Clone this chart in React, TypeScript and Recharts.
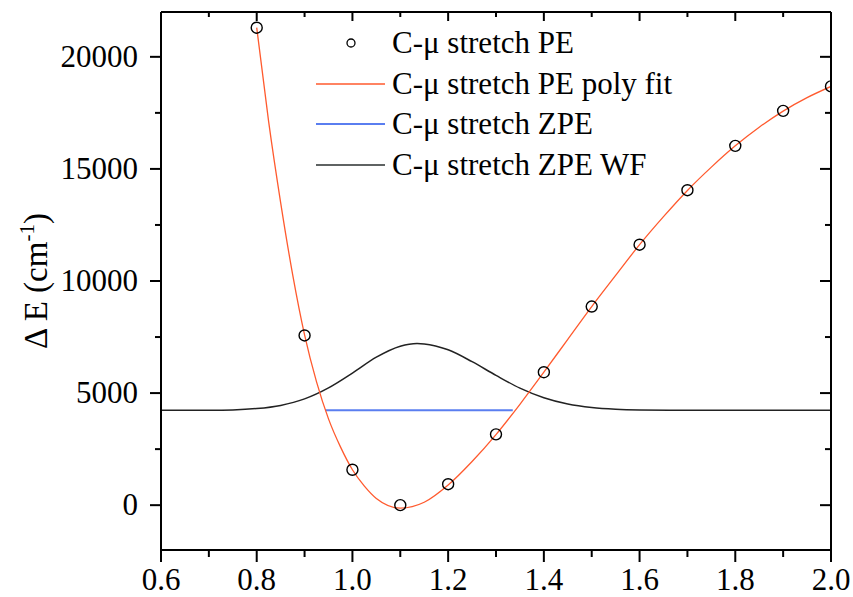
import { ComposedChart, Line, Scatter, XAxis, YAxis, Legend } from 'recharts'

const FONT = '"Liberation Serif", "Times New Roman", serif'

// C-mu stretch PE (points)
const peX = [0.8, 0.9, 1.0, 1.1, 1.2, 1.3, 1.4, 1.5, 1.6, 1.7, 1.8, 1.9, 2.0]
const peE = [21300, 7570, 1580, 0, 935, 3160, 5930, 8860, 11620, 14050, 16030, 17590, 18680]

// poly fit curve
const fitX = [0.8, 0.825, 0.85, 0.875, 0.9, 0.925, 0.95, 0.975, 1.0, 1.025, 1.05, 1.1, 1.15, 1.2, 1.25, 1.3, 1.35, 1.4, 1.45, 1.5, 1.55, 1.6, 1.65, 1.7, 1.75, 1.8, 1.85, 1.9, 1.95, 2.0]
const fitE = [21300, 17100, 13500, 10300, 7600, 5500, 3850, 2600, 1580, 850, 300, -130, 130, 900, 1950, 3150, 4500, 5930, 7400, 8860, 10250, 11620, 12870, 14040, 15080, 16030, 16860, 17580, 18180, 18680]

// zero point energy level
const zpeX = [0.943, 1.335]
const zpeE = [4230, 4230]

// wavefunction
const wfX = [0.6, 0.7, 0.75, 0.8, 0.85, 0.9, 0.95, 1.0, 1.05, 1.1, 1.135, 1.15, 1.2, 1.25, 1.3, 1.35, 1.4, 1.45, 1.5, 1.55, 1.6, 1.7, 1.8, 2.0]
const wfE = [4230, 4235, 4250, 4310, 4450, 4740, 5230, 5890, 6600, 7090, 7210, 7195, 6930, 6400, 5790, 5220, 4790, 4510, 4355, 4280, 4250, 4235, 4230, 4230]

const xTicks = [0.6, 0.7, 0.8, 0.9, 1.0, 1.1, 1.2, 1.3, 1.4, 1.5, 1.6, 1.7, 1.8, 1.9, 2.0]
const xMajor = ['0.6', '0.8', '1.0', '1.2', '1.4', '1.6', '1.8', '2.0']
const yTicks = [0, 2500, 5000, 7500, 10000, 12500, 15000, 17500, 20000]
const yMajor = [0, 5000, 10000, 15000, 20000]

const legendItems = [
  { name: 'C-\u03bc stretch PE', kind: 'circle', color: '#000' },
  { name: 'C-\u03bc stretch PE poly fit', kind: 'line', color: '#ff5a2e' },
  { name: 'C-\u03bc stretch ZPE', kind: 'line', color: '#5a7ef0' },
  { name: 'C-\u03bc stretch ZPE WF', kind: 'line', color: '#2a2f2f' },
]

const toRows = (xs: number[], ys: number[]) => xs.map((x, i) => ({ x, y: ys[i] }))
const peData = toRows(peX, peE)
const fitData = toRows(fitX, fitE)
const zpeData = toRows(zpeX, zpeE)
const wfData = toRows(wfX, wfE)

const isMajorX = (v: number) => xMajor.includes(v.toFixed(1))

const BottomTick = (props: any) => {
  const { x, y, payload } = props
  const major = isMajorX(payload.value)
  return (
    <g>
      <line x1={x} x2={x} y1={y} y2={y + (major ? 12 : 7)} stroke="#000" strokeWidth={2} />
      {major && (
        <text x={x} y={y + 40} textAnchor="middle" fontSize={31} fontFamily={FONT} fill="#000">
          {payload.value.toFixed(1)}
        </text>
      )}
    </g>
  )
}

const TopTick = (props: any) => {
  const { x, y, payload } = props
  const major = isMajorX(payload.value)
  return <line x1={x} x2={x} y1={y} y2={y + (major ? 9 : 5)} stroke="#000" strokeWidth={2} />
}

const LeftTick = (props: any) => {
  const { x, y, payload } = props
  const major = yMajor.includes(payload.value)
  return (
    <g>
      <line x1={x} x2={x - (major ? 11 : 6)} y1={y} y2={y} stroke="#000" strokeWidth={2} />
      {major && (
        <text x={x - 23} y={y + 10} textAnchor="end" fontSize={31} fontFamily={FONT} fill="#000">
          {payload.value}
        </text>
      )}
    </g>
  )
}

const RightTick = (props: any) => {
  const { x, y, payload } = props
  const major = yMajor.includes(payload.value)
  return <line x1={x} x2={x - (major ? 11 : 6)} y1={y} y2={y} stroke="#000" strokeWidth={2} />
}

const YLabel = (props: any) => {
  const vb = props.viewBox || { x: 0, y: 12, width: 161, height: 538 }
  const cx = 47
  const cy = vb.y + vb.height / 2
  return (
    <text
      x={cx}
      y={cy}
      transform={`rotate(-90, ${cx}, ${cy})`}
      textAnchor="middle"
      fontSize={33}
      fontFamily={FONT}
      fill="#000"
    >
      {'\u0394 E (cm'}
      <tspan dy={-13} fontSize={21}>-1</tspan>
      <tspan dy={13}>)</tspan>
    </text>
  )
}

const LegendBox = () => (
  <div style={{ fontFamily: FONT, fontSize: 31, color: '#000' }}>
    {legendItems.map((item) => (
      <div key={item.name} style={{ display: 'flex', alignItems: 'center', height: 40.7, whiteSpace: 'nowrap' }}>
        <svg width={69} height={12} style={{ flex: 'none' }}>
          {item.kind === 'circle' ? (
            <circle cx={35} cy={6} r={4} fill="none" stroke={item.color} strokeWidth={1.3} />
          ) : (
            <line x1={0} x2={69} y1={6} y2={6} stroke={item.color} strokeWidth={item.color === '#5a7ef0' ? 2 : 1.5} />
          )}
        </svg>
        <span style={{ marginLeft: 7 }}>{item.name}</span>
      </div>
    ))}
  </div>
)

export default function App() {
  return (
    <div style={{ position: 'absolute', left: 0, top: 0, background: '#fff' }}>
      <ComposedChart width={853} height={597} margin={{ top: 12, right: 22, bottom: 0, left: 0 }} style={{ fontFamily: FONT }}>
        <XAxis
          xAxisId="b"
          dataKey="x"
          type="number"
          domain={[0.6, 2.0]}
          allowDataOverflow
          ticks={xTicks}
          interval={0}
          height={47}
          tickSize={0}
          tickMargin={0}
          tickLine={false}
          tick={BottomTick}
          axisLine={{ stroke: '#000', strokeWidth: 2 }}
        />
        <XAxis
          xAxisId="t"
          orientation="top"
          mirror
          dataKey="x"
          type="number"
          domain={[0.6, 2.0]}
          allowDataOverflow
          ticks={xTicks}
          interval={0}
          tickSize={0}
          tickMargin={0}
          tickLine={false}
          tick={TopTick}
          axisLine={{ stroke: '#000', strokeWidth: 2 }}
        />
        <YAxis
          yAxisId="l"
          type="number"
          domain={[-2000, 22000]}
          allowDataOverflow
          ticks={yTicks}
          interval={0}
          width={161}
          tickSize={0}
          tickMargin={0}
          tickLine={false}
          tick={LeftTick}
          axisLine={{ stroke: '#000', strokeWidth: 2 }}
          label={{ content: YLabel }}
        />
        <YAxis
          yAxisId="r"
          orientation="right"
          mirror
          type="number"
          domain={[-2000, 22000]}
          allowDataOverflow
          ticks={yTicks}
          interval={0}
          tickSize={0}
          tickMargin={0}
          tickLine={false}
          tick={RightTick}
          axisLine={{ stroke: '#000', strokeWidth: 2 }}
        />
        <Legend
          layout="vertical"
          align="center"
          verticalAlign="middle"
          content={LegendBox}
          wrapperStyle={{ left: 316, top: 22.6, width: 420 }}
        />
        <Line
          xAxisId="b"
          yAxisId="l"
          data={wfData}
          dataKey="y"
          type="monotone"
          stroke="#222"
          strokeWidth={1.5}
          dot={false}
          isAnimationActive={false}
        />
        <Line
          xAxisId="b"
          yAxisId="l"
          data={zpeData}
          dataKey="y"
          type="linear"
          stroke="#5a7ef0"
          strokeWidth={2}
          dot={false}
          isAnimationActive={false}
        />
        <Line
          xAxisId="b"
          yAxisId="l"
          data={fitData}
          dataKey="y"
          type="monotone"
          stroke="#ff5a2e"
          strokeWidth={1.3}
          dot={false}
          isAnimationActive={false}
        />
        <Scatter
          xAxisId="b"
          yAxisId="l"
          data={peData}
          dataKey="y"
          isAnimationActive={false}
          shape={(p: any) => <circle cx={p.cx} cy={p.cy} r={5.5} fill="none" stroke="#000" strokeWidth={1.4} />}
        />
      </ComposedChart>
    </div>
  )
}
